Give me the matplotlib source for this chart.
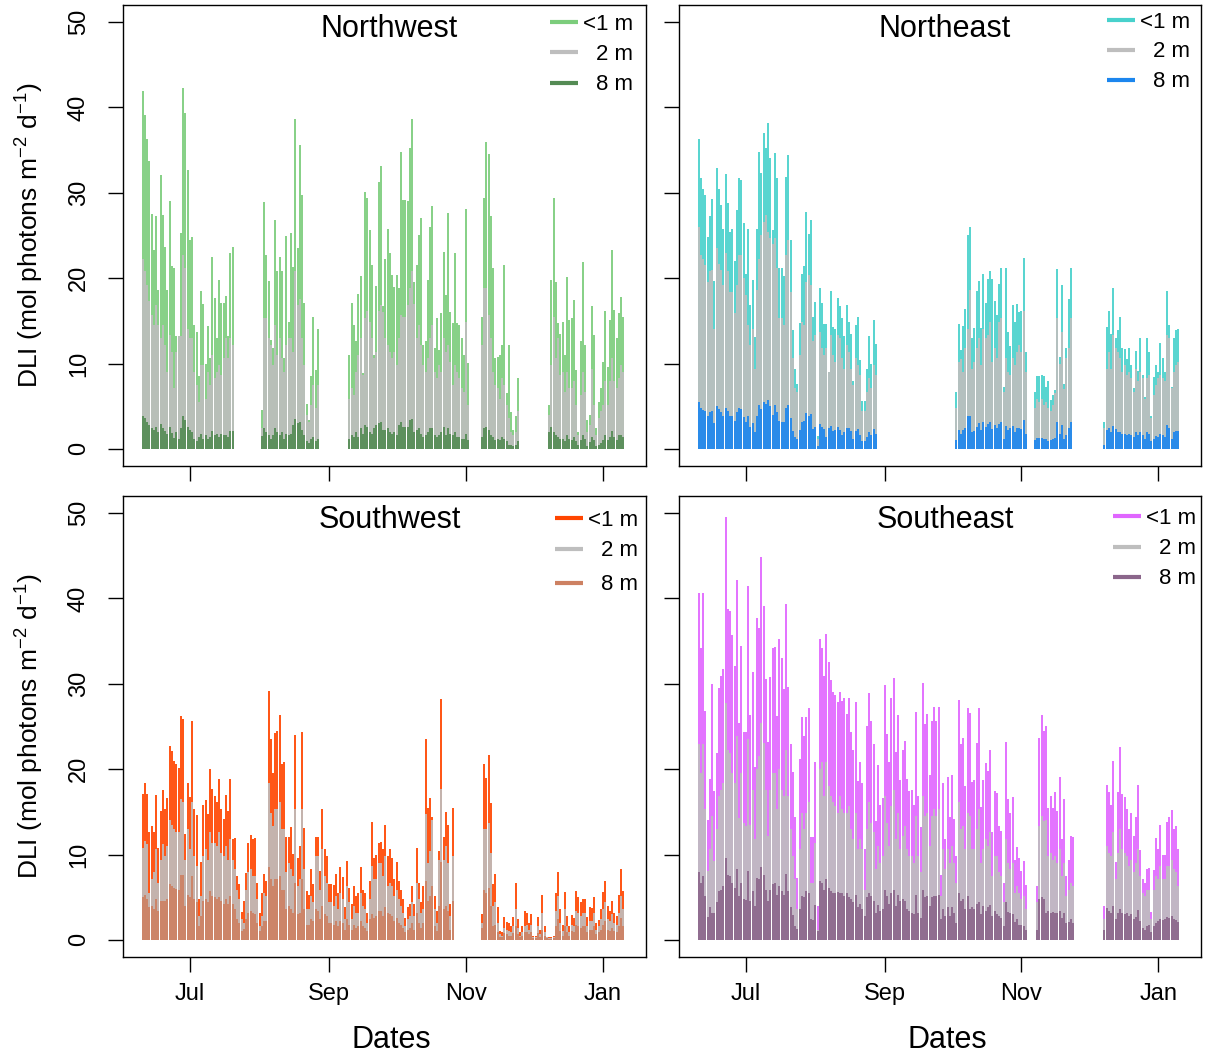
import numpy as np
import matplotlib
matplotlib.use('Agg')
import matplotlib.pyplot as plt

plt.rcParams['font.family'] = ['Liberation Sans', 'DejaVu Sans']
plt.rcParams['mathtext.fontset'] = 'custom'
plt.rcParams['mathtext.rm'] = 'Liberation Sans'
plt.rcParams['mathtext.it'] = 'Liberation Sans:italic'

# day numbers are counted from 1 July; each series is stored as runs of
# consecutive days (start day of each run + the daily DLI values in it)
month_ticks = [0, 62, 123, 184]
month_labels = ['Jul', 'Sep', 'Nov', 'Jan']
depth_labels = ['<1 m', '2 m', '8 m']
sites = ['Northwest', 'Northeast', 'Southwest', 'Southeast']

# ---------------- Northwest ----------------
nw_start = [-21, 32, 71, 130, 160]
nw_surf = [
    [41.9, 39.1, 36.3, 33.7, 27.5, 23.3, 27.3, 18.6, 32.1, 27.4, 23.7, 18.6, 29.0, 21.4, 21.2, 13.2, 13.2, 25.3, 42.3, 39.3,
     32.7, 24.5, 24.8, 14.5, 13.7, 8.5, 18.5, 17.0, 10.0, 14.4, 10.6, 22.5, 17.7, 13.0, 19.8, 17.1, 17.1, 17.9, 13.2, 22.9, 23.7],
    [4.6, 28.9, 22.7, 19.7, 12.8, 11.8, 26.8, 20.8, 22.5, 20.8, 10.6, 24.9, 14.9, 25.3, 21.3, 38.6, 23.5, 35.6, 29.8, 17.1,
     5.3, 3.4, 8.6, 15.5, 9.2, 14.1],
    [11.0, 17.1, 14.5, 12.6, 18.1, 20.3, 8.9, 30.1, 29.4, 25.6, 21.5, 11.0, 19.1, 31.3, 33.1, 16.7, 22.3, 25.8, 22.9, 20.4,
     19.0, 20.4, 18.8, 34.8, 29.2, 29.1, 29.0, 35.3, 38.7, 19.6, 21.5, 25.1, 27.0, 12.2, 12.6, 19.8, 26.0, 28.4, 11.8, 15.3,
     11.6, 15.9, 23.1, 18.0, 27.6, 16.0, 14.7, 22.9, 14.7, 14.5, 13.0, 11.0, 28.1, 10.1],
    [15.5, 29.4, 35.9, 34.5, 27.3, 21.2, 10.6, 10.8, 11.0, 12.2, 21.5, 6.5, 12.2, 4.3, 2.2, 3.8, 8.3],
    [5.2, 19.8, 29.4, 19.5, 14.7, 13.5, 14.9, 11.0, 20.1, 15.1, 15.3, 17.4, 9.3, 2.0, 12.6, 21.9, 12.2, 3.4, 4.0, 16.7,
     13.3, 2.5, 5.5, 7.1, 10.2, 16.1, 9.6, 15.1, 23.3, 16.3, 13.0, 15.9, 17.8, 15.5],
]
nw_mid = [
    [22.3, 20.8, 19.2, 17.3, 15.7, 14.5, 16.9, 14.5, 13.0, 14.5, 12.2, 9.0, 13.3, 11.4, 7.1, 11.4, 13.2, 13.2, 22.7, 21.2,
     14.1, 13.0, 13.0, 9.0, 7.5, 5.5, 9.8, 9.8, 5.9, 9.0, 7.5, 11.0, 8.3, 9.0, 9.8, 8.7, 10.6, 13.0, 10.6, 13.0, 12.2],
    [2.5, 15.3, 15.3, 13.0, 12.2, 9.8, 14.5, 11.0, 13.0, 10.6, 9.0, 12.2, 13.0, 13.0, 11.4, 20.8, 16.9, 17.6, 13.0, 9.8,
     4.0, 3.2, 5.2, 7.5, 4.8, 7.5],
    [5.9, 7.1, 6.3, 9.0, 11.0, 13.0, 8.7, 15.3, 16.1, 14.9, 13.0, 10.6, 11.4, 16.1, 16.9, 16.0, 13.0, 12.2, 11.4, 10.6,
     11.4, 9.8, 13.0, 15.7, 15.5, 15.5, 16.9, 18.8, 20.8, 17.0, 13.0, 14.5, 12.2, 9.8, 9.0, 10.6, 13.0, 14.5, 9.0, 8.3,
     9.8, 9.0, 13.0, 11.4, 12.2, 10.2, 7.5, 9.8, 9.0, 8.3, 7.1, 6.7, 14.9, 5.2],
    [12.2, 18.8, 18.8, 15.7, 13.0, 9.0, 7.5, 7.1, 5.9, 8.3, 7.5, 5.2, 3.6, 2.0, 1.6, 2.0, 4.4],
    [4.0, 9.8, 15.5, 10.6, 13.0, 8.7, 9.0, 6.7, 9.0, 7.1, 7.1, 7.9, 5.2, 1.6, 6.3, 9.0, 6.7, 2.0, 2.8, 9.4,
     5.2, 1.6, 3.6, 4.4, 5.2, 7.9, 5.2, 7.9, 10.6, 7.9, 7.1, 8.3, 9.8, 9.0],
]
nw_deep = [
    [3.8, 3.6, 3.2, 2.8, 2.4, 2.2, 2.6, 2.0, 2.9, 2.5, 2.1, 1.8, 2.6, 1.9, 1.3, 2.0, 1.2, 2.4, 3.9, 3.4,
     2.6, 2.2, 2.0, 1.2, 0.9, 1.4, 1.7, 1.2, 1.6, 1.2, 1.4, 2.1, 1.6, 1.8, 1.4, 1.8, 1.6, 1.6, 1.4, 2.1, 2.1],
    [1.5, 2.4, 2.0, 1.6, 1.2, 1.6, 2.4, 2.0, 1.6, 2.0, 1.2, 1.8, 1.6, 1.8, 2.8, 3.5, 3.0, 3.2, 2.2, 1.6,
     0.9, 0.7, 1.2, 1.4, 0.9, 1.2],
    [1.2, 1.6, 1.4, 2.0, 1.4, 2.4, 1.8, 2.8, 2.6, 2.0, 1.8, 2.4, 2.8, 3.0, 3.2, 2.2, 2.2, 2.4, 2.0, 1.8,
     2.0, 1.6, 2.8, 3.2, 2.6, 2.6, 2.6, 3.4, 3.5, 2.0, 2.2, 2.4, 1.8, 1.4, 1.6, 2.0, 2.4, 2.5, 1.6, 1.4,
     1.6, 2.0, 2.6, 1.6, 2.4, 1.8, 1.6, 2.0, 1.4, 1.4, 1.2, 1.2, 1.8, 1.1],
    [1.4, 2.4, 2.6, 2.2, 1.6, 1.4, 1.1, 1.2, 1.1, 1.4, 1.2, 0.9, 0.5, 0.5, 0.4, 0.5, 0.9],
    [2.0, 2.6, 2.0, 1.6, 1.4, 1.2, 1.2, 0.9, 1.6, 1.2, 1.1, 1.4, 0.9, 0.5, 1.1, 1.6, 1.2, 0.4, 0.8, 1.4,
     1.1, 0.3, 0.5, 0.7, 1.1, 1.6, 1.1, 1.4, 2.1, 1.4, 1.1, 1.6, 1.6, 1.4],
]

# ---------------- Northeast ----------------
ne_start = [-21, 94, 129, 160]
ne_surf = [
    [36.3, 31.7, 30.4, 29.7, 24.8, 27.3, 29.3, 19.7, 32.9, 30.4, 28.6, 25.8, 32.2, 28.8, 25.4, 25.8, 22.0, 28.0, 31.7, 31.5,
     26.5, 20.5, 25.8, 16.9, 19.8, 13.1, 25.8, 34.8, 32.3, 37.0, 35.3, 38.2, 34.1, 25.6, 34.7, 31.7, 21.2, 21.2, 20.2, 31.9,
     34.4, 24.5, 13.9, 9.4, 7.6, 14.8, 20.5, 21.4, 27.8, 25.2, 26.8, 15.5, 17.2, 1.5, 18.8, 17.1, 14.6, 14.6, 9.0, 18.5,
     14.3, 14.1, 17.7, 16.7, 15.3, 13.2, 16.9, 14.9, 13.5, 8.0, 14.5, 15.4, 10.4, 5.6, 5.6, 9.4, 13.2, 10.0, 15.1, 12.3],
    [6.7, 14.6, 11.6, 14.4, 16.4, 25.1, 26.0, 13.0, 14.2, 18.5, 19.7, 14.2, 20.5, 17.1, 19.9, 20.9, 19.9, 17.3, 15.7, 19.3,
     21.2, 7.3, 21.2, 13.7, 12.0, 16.9, 14.9, 17.0, 16.0, 16.1, 22.4, 11.4],
    [6.7, 8.5, 8.6, 8.7, 8.5, 7.3, 7.9, 5.7, 6.3, 6.9, 21.1, 10.8, 19.2, 7.6, 11.8, 17.6, 21.2],
    [3.2, 14.3, 16.2, 13.5, 18.8, 13.0, 13.9, 15.4, 11.8, 11.7, 10.5, 11.8, 9.8, 7.1, 11.5, 9.1, 13.0, 8.7, 6.1, 13.0,
     11.4, 3.8, 8.4, 9.8, 9.0, 12.4, 10.6, 9.0, 18.5, 14.5, 7.3, 13.0, 13.9, 14.1],
]
ne_mid = [
    [26.0, 22.7, 22.3, 21.5, 19.6, 20.8, 21.0, 14.1, 23.5, 21.7, 21.0, 19.2, 22.9, 20.8, 18.4, 18.4, 15.9, 19.2, 22.7, 22.7,
     20.0, 18.0, 14.5, 12.2, 14.1, 9.4, 18.6, 22.3, 25.1, 26.6, 27.4, 25.4, 24.7, 24.0, 24.7, 21.2, 15.3, 15.3, 14.5, 22.7,
     24.5, 18.4, 10.6, 7.1, 6.7, 11.0, 14.9, 14.5, 19.6, 20.4, 19.2, 12.6, 13.3, 1.2, 13.7, 11.8, 11.0, 11.8, 9.0, 13.3,
     11.0, 10.2, 13.3, 13.0, 10.6, 9.4, 12.2, 11.4, 9.4, 7.5, 10.6, 9.8, 8.7, 4.4, 4.4, 6.7, 8.3, 7.1, 9.8, 8.7],
    [4.8, 10.2, 10.5, 9.0, 11.8, 14.1, 18.6, 9.4, 10.2, 11.8, 13.0, 9.8, 14.1, 13.0, 13.3, 14.9, 10.2, 11.8, 10.6, 14.9,
     15.3, 6.7, 10.6, 9.0, 8.7, 10.6, 9.8, 11.4, 12.2, 11.4, 16.1, 9.0],
    [4.8, 5.9, 5.5, 5.9, 5.2, 5.5, 4.8, 4.4, 5.2, 6.5, 15.3, 10.0, 13.7, 7.0, 10.6, 11.8, 15.3],
    [2.4, 9.4, 11.4, 9.4, 13.3, 11.8, 11.4, 10.6, 9.0, 9.8, 8.7, 9.0, 8.3, 6.7, 9.4, 7.9, 9.0, 8.3, 5.9, 8.3,
     8.7, 3.6, 6.3, 7.5, 8.3, 8.7, 8.3, 7.9, 13.3, 13.0, 7.1, 9.0, 9.8, 10.2],
]
ne_deep = [
    [5.5, 4.8, 4.6, 4.5, 3.8, 4.3, 4.5, 3.0, 5.0, 4.7, 4.3, 3.8, 4.8, 4.4, 3.9, 3.9, 3.3, 4.3, 4.8, 4.7,
     3.7, 3.2, 3.9, 2.6, 3.0, 2.0, 3.9, 5.2, 4.7, 5.5, 5.3, 5.7, 5.0, 4.0, 5.2, 4.3, 3.3, 3.2, 3.1, 4.8,
     5.2, 3.6, 2.1, 1.4, 1.2, 2.2, 3.1, 3.3, 4.2, 3.9, 4.1, 2.3, 2.6, 0.4, 2.9, 2.6, 2.3, 1.4, 2.4, 2.7,
     2.1, 2.2, 2.6, 2.2, 1.6, 2.0, 2.5, 2.5, 2.1, 1.2, 2.1, 2.3, 1.6, 0.9, 0.9, 1.4, 2.0, 1.6, 2.3, 1.8],
    [1.1, 2.2, 1.7, 2.2, 2.5, 3.8, 3.9, 2.0, 2.1, 2.6, 3.0, 2.2, 3.1, 2.6, 2.9, 3.2, 2.3, 2.8, 2.4, 2.9,
     3.2, 1.2, 2.7, 2.2, 2.4, 2.7, 2.0, 2.5, 2.4, 2.3, 3.4, 1.7],
    [1.1, 1.3, 1.3, 1.3, 1.2, 1.2, 0.9, 1.1, 1.2, 1.3, 3.2, 1.8, 2.8, 1.2, 1.6, 2.4, 3.2],
    [0.5, 2.2, 2.5, 2.0, 2.7, 2.3, 2.0, 2.0, 1.8, 1.8, 1.6, 1.8, 1.6, 1.4, 2.0, 1.6, 2.0, 1.6, 1.2, 2.0,
     1.8, 0.9, 1.2, 1.5, 1.4, 1.8, 1.6, 1.4, 2.8, 2.4, 1.2, 2.0, 2.1, 2.1],
]

# ---------------- Southwest ----------------
sw_start = [-21, 130, 160]
sw_surf = [
    [17.1, 18.4, 17.1, 12.6, 13.4, 12.6, 17.0, 10.8, 15.1, 17.6, 15.3, 16.6, 22.7, 22.1, 21.0, 20.6, 20.1, 26.2, 25.9, 12.4,
     18.4, 16.7, 25.7, 15.3, 14.6, 4.8, 9.1, 15.8, 16.4, 14.8, 20.0, 17.7, 16.9, 16.2, 18.9, 15.3, 14.2, 17.0, 15.1, 18.9,
     11.8, 11.9, 7.5, 6.5, 3.3, 4.6, 7.8, 11.4, 12.3, 11.8, 11.9, 6.7, 3.1, 5.5, 7.7, 6.9, 29.2, 23.5, 19.5, 24.2,
     24.5, 26.4, 20.6, 20.8, 12.0, 12.0, 13.2, 10.1, 24.0, 9.6, 11.0, 24.4, 13.1, 5.7, 5.3, 8.3, 6.5, 12.1, 12.1, 8.1,
     15.3, 10.6, 9.8, 6.6, 6.5, 6.4, 7.7, 5.5, 8.5, 7.4, 3.8, 9.3, 6.1, 4.2, 6.3, 5.1, 5.5, 8.5, 5.9, 5.5,
     3.2, 6.9, 13.8, 9.6, 10.0, 11.4, 11.5, 10.6, 13.5, 9.8, 10.6, 9.6, 7.1, 9.1, 6.9, 5.9, 4.8, 2.6, 3.9, 4.2,
     6.3, 4.2, 10.8, 6.7, 4.4, 6.3, 23.5, 15.5, 16.6, 14.4, 5.2, 3.4, 10.4, 28.2, 12.0, 15.0, 13.5, 4.2, 15.4],
    [3.0, 20.6, 19.0, 21.7, 16.0, 6.6, 7.7, 3.8, 1.1, 0.9, 2.7, 2.1, 2.0, 1.6, 2.7, 6.7, 2.4, 0.9, 1.6, 3.4,
     3.2, 2.0, 3.0, 0.5, 0.5, 2.7, 1.2, 5.3, 1.6, 0.4],
    [0.3, 0.4, 0.5, 5.5, 8.0, 3.6, 1.8, 5.6, 2.8, 1.6, 2.9, 2.6, 5.7, 5.0, 4.4, 4.8, 4.8, 2.7, 3.8, 3.7,
     5.0, 2.0, 2.3, 3.6, 5.6, 6.9, 4.0, 3.4, 4.6, 3.2, 2.8, 5.3, 8.3, 5.7],
]
sw_mid = [
    [10.8, 11.6, 11.2, 5.5, 7.1, 8.0, 10.6, 6.7, 9.4, 11.2, 9.8, 11.0, 14.1, 13.5, 13.0, 12.6, 12.6, 16.5, 16.1, 9.4,
     13.0, 10.6, 16.1, 9.8, 8.7, 2.8, 5.2, 9.8, 10.6, 9.4, 12.6, 11.4, 11.4, 11.0, 12.6, 10.2, 9.8, 11.0, 9.4, 11.8,
     9.4, 8.3, 5.9, 4.8, 2.4, 2.0, 5.9, 7.9, 8.3, 7.5, 7.5, 4.8, 1.6, 2.8, 5.5, 5.2, 18.4, 14.9, 13.3, 15.3,
     15.3, 16.1, 13.0, 13.0, 7.9, 9.0, 8.3, 7.5, 15.3, 6.3, 7.1, 15.3, 8.3, 3.6, 3.6, 5.2, 4.4, 9.8, 9.8, 5.9,
     10.6, 7.5, 6.7, 4.4, 4.4, 4.0, 5.2, 3.6, 5.5, 4.8, 2.4, 6.3, 4.4, 2.4, 4.0, 3.2, 3.2, 5.5, 4.0, 3.6,
     2.0, 4.8, 8.7, 7.1, 7.1, 9.0, 9.0, 7.5, 9.8, 6.3, 6.7, 6.3, 5.2, 5.9, 4.8, 4.0, 3.2, 1.6, 2.4, 2.8,
     4.4, 2.8, 6.7, 4.8, 3.2, 3.6, 14.7, 9.0, 10.4, 14.0, 3.6, 2.0, 9.4, 17.7, 9.4, 11.0, 9.0, 2.8, 9.8],
    [2.0, 13.0, 13.0, 13.7, 10.2, 4.0, 4.4, 2.0, 0.7, 0.5, 1.4, 1.2, 1.1, 0.9, 1.6, 3.6, 1.4, 0.5, 0.9, 1.6,
     1.8, 1.2, 1.8, 0.4, 0.4, 1.6, 0.7, 3.2, 0.9, 0.3],
    [0.2, 0.2, 0.3, 3.4, 5.2, 2.0, 1.1, 3.6, 1.6, 0.9, 1.8, 1.6, 3.4, 3.2, 2.8, 3.2, 3.2, 1.6, 2.2, 2.2,
     3.2, 1.2, 1.6, 2.4, 3.6, 4.4, 2.4, 2.2, 3.0, 2.0, 1.8, 3.2, 5.2, 3.6],
]
sw_deep = [
    [5.0, 5.3, 4.8, 3.8, 4.0, 3.6, 4.8, 3.4, 4.6, 4.6, 4.6, 4.8, 6.5, 6.3, 6.1, 6.0, 5.9, 7.6, 7.6, 4.0,
     5.3, 5.0, 7.5, 4.8, 4.4, 1.6, 2.8, 4.6, 4.8, 4.4, 5.7, 5.2, 5.0, 4.8, 5.0, 4.6, 4.2, 4.8, 4.2, 5.2,
     4.2, 3.6, 2.4, 2.0, 1.1, 1.3, 2.4, 3.2, 3.4, 3.2, 3.0, 2.0, 1.1, 1.6, 2.2, 2.2, 8.5, 7.1, 6.3, 7.1,
     7.1, 7.5, 5.9, 5.9, 3.6, 4.0, 3.6, 3.2, 6.7, 3.0, 3.2, 7.1, 3.6, 1.8, 1.8, 2.4, 2.2, 3.6, 3.4, 2.4,
     4.0, 3.0, 2.8, 2.0, 2.0, 1.8, 2.2, 1.6, 2.2, 2.0, 1.2, 2.4, 1.8, 1.2, 1.7, 1.4, 1.6, 2.2, 1.6, 1.4,
     1.1, 2.4, 3.0, 2.6, 2.8, 3.4, 3.4, 2.8, 3.8, 3.2, 3.0, 2.8, 2.2, 2.6, 2.0, 1.8, 1.4, 0.9, 1.2, 1.4,
     2.0, 1.2, 3.2, 2.0, 1.4, 2.0, 6.9, 4.6, 5.2, 6.3, 1.6, 1.1, 4.0, 9.1, 3.6, 4.0, 3.4, 1.2, 4.6],
    [1.4, 5.9, 5.5, 6.1, 4.0, 1.6, 1.8, 0.9, 0.4, 0.3, 0.8, 0.7, 0.5, 0.5, 0.8, 1.6, 0.7, 0.3, 0.5, 0.9,
     0.9, 0.7, 0.9, 0.2, 0.2, 0.8, 0.4, 1.2, 0.5, 0.2],
    [0.1, 0.1, 0.2, 1.6, 2.4, 1.1, 0.5, 1.6, 0.9, 0.5, 1.1, 0.9, 1.8, 1.6, 1.4, 1.6, 1.6, 0.9, 1.2, 1.2,
     1.6, 0.7, 0.9, 1.2, 1.8, 2.2, 1.2, 1.1, 1.4, 1.1, 0.9, 1.6, 2.6, 1.6],
]

# ---------------- Southeast ----------------
se_start = [-21, 130, 160]
se_surf = [
    [40.6, 34.2, 40.6, 26.8, 14.1, 18.8, 30.0, 17.4, 21.9, 29.5, 30.9, 31.7, 49.5, 38.8, 38.5, 35.7, 32.1, 42.2, 25.4, 34.4,
     24.3, 24.4, 41.5, 26.4, 31.4, 20.2, 37.7, 36.5, 44.9, 39.1, 30.6, 23.2, 30.8, 34.2, 34.3, 26.2, 35.2, 33.0, 29.4, 39.4,
     29.6, 23.0, 19.7, 14.4, 7.2, 21.2, 26.1, 23.9, 26.1, 27.2, 12.0, 12.0, 20.8, 4.0, 35.3, 34.2, 30.9, 35.8, 32.6, 30.5,
     29.0, 28.7, 27.9, 29.0, 28.0, 28.3, 26.5, 28.3, 24.3, 22.2, 27.9, 18.6, 20.8, 18.4, 10.6, 25.1, 28.9, 25.7, 23.0, 13.9,
     20.5, 15.8, 16.6, 29.9, 24.1, 20.8, 28.3, 30.7, 22.0, 26.3, 18.7, 22.2, 23.3, 18.8, 17.4, 17.6, 15.8, 26.7, 16.9, 13.2,
     30.1, 25.3, 26.5, 19.3, 25.6, 27.3, 25.6, 27.3, 7.6, 18.4, 11.8, 19.1, 14.4, 19.3, 14.2, 9.8, 28.1, 22.9, 23.6, 18.0,
     27.2, 26.6, 18.5, 18.7, 23.1, 27.2, 15.6, 18.7, 20.7, 19.8, 22.3, 12.6, 17.4, 17.2, 13.3, 12.8, 6.7, 23.2, 16.5, 14.9,
     16.7, 9.4, 10.9, 9.6, 8.1, 9.3, 6.4],
    [6.3, 23.6, 26.4, 24.5, 25.1, 15.5, 16.9, 15.5, 17.3, 15.1, 19.1, 11.8, 16.5, 7.5, 9.4, 12.2, 12.0],
    [4.0, 18.1, 17.3, 15.8, 21.0, 9.1, 17.3, 22.6, 17.1, 16.7, 15.3, 13.0, 14.9, 12.2, 14.4, 18.2, 10.5, 7.1, 6.7, 8.3,
     8.4, 3.3, 8.2, 11.9, 10.6, 13.5, 10.0, 9.9, 13.8, 14.4, 15.2, 13.0, 13.3, 10.6],
]
se_mid = [
    [22.9, 19.6, 22.9, 15.3, 8.1, 10.6, 14.5, 9.3, 13.0, 16.9, 17.6, 18.4, 27.8, 22.3, 21.9, 19.6, 18.4, 23.9, 14.3, 19.6,
     13.7, 13.3, 23.5, 13.5, 17.6, 11.8, 20.0, 21.5, 25.4, 23.1, 17.6, 12.2, 17.6, 19.6, 19.6, 15.3, 20.0, 17.6, 16.9, 22.3,
     16.9, 13.0, 9.8, 7.1, 3.6, 10.6, 14.9, 13.0, 14.9, 16.1, 6.7, 6.7, 11.4, 1.2, 20.0, 20.8, 16.9, 20.8, 18.0, 16.9,
     16.1, 15.7, 14.9, 16.9, 15.3, 14.9, 14.9, 15.7, 13.0, 11.8, 14.9, 10.6, 11.8, 10.6, 5.9, 13.0, 16.1, 13.7, 12.6, 8.3,
     11.0, 9.0, 9.8, 16.9, 13.7, 11.0, 15.7, 17.6, 11.8, 14.9, 10.6, 12.2, 13.3, 10.6, 9.8, 9.8, 9.0, 14.5, 9.8, 7.9,
     16.9, 14.5, 14.9, 11.0, 14.5, 15.3, 14.5, 15.3, 5.2, 10.6, 8.3, 10.6, 9.0, 11.0, 9.0, 6.7, 16.1, 13.0, 13.3, 10.6,
     14.9, 14.5, 10.6, 10.6, 13.0, 15.3, 9.0, 10.6, 11.8, 11.0, 12.6, 7.5, 9.8, 9.8, 7.9, 7.5, 4.4, 11.8, 9.0, 8.3,
     9.0, 5.5, 6.3, 5.5, 4.8, 5.2, 3.6],
    [4.4, 13.3, 14.5, 13.9, 14.1, 9.8, 10.2, 9.4, 9.8, 9.0, 10.6, 7.5, 9.0, 5.2, 5.9, 6.7, 6.3],
    [2.4, 11.0, 10.2, 9.8, 12.6, 7.1, 10.2, 13.0, 10.6, 10.2, 9.8, 8.7, 9.4, 7.9, 9.0, 10.6, 7.5, 5.5, 5.2, 5.9,
     5.9, 2.4, 5.9, 7.5, 7.1, 8.7, 7.1, 7.1, 8.7, 8.7, 9.4, 8.3, 7.9, 6.3],
]
se_deep = [
    [8.0, 6.7, 7.5, 5.2, 2.7, 3.8, 3.2, 3.2, 4.4, 5.7, 5.9, 6.3, 9.6, 7.6, 7.5, 6.7, 6.1, 8.3, 5.2, 6.7,
     4.8, 4.7, 8.1, 4.6, 5.7, 4.0, 7.3, 7.1, 8.6, 7.6, 5.9, 4.6, 5.9, 6.5, 6.7, 5.3, 6.3, 5.7, 5.3, 7.7,
     5.7, 3.9, 2.9, 1.6, 1.3, 3.6, 5.2, 5.0, 5.7, 5.5, 2.4, 2.3, 4.1, 1.1, 6.9, 6.7, 5.9, 7.1, 6.1, 5.7,
     5.5, 5.5, 5.6, 5.5, 5.5, 5.2, 5.5, 5.0, 4.8, 4.4, 5.3, 3.8, 4.2, 3.6, 2.8, 5.0, 5.5, 5.2, 4.6, 3.2,
     4.1, 3.4, 3.6, 5.8, 5.2, 4.2, 5.5, 5.9, 4.0, 5.3, 4.6, 4.8, 4.6, 3.6, 3.4, 3.2, 3.0, 5.3, 3.2, 2.6,
     5.8, 5.0, 5.2, 4.0, 5.0, 5.2, 5.2, 5.3, 2.4, 3.6, 2.8, 3.8, 2.8, 3.8, 3.2, 2.0, 5.5, 4.6, 4.8, 3.6,
     5.2, 3.6, 3.8, 3.6, 4.2, 4.5, 3.0, 4.0, 3.4, 3.8, 4.1, 2.8, 3.4, 3.0, 2.8, 2.6, 1.6, 4.4, 3.3, 3.2,
     3.0, 2.1, 2.4, 1.8, 1.7, 1.6, 1.2],
    [1.2, 4.8, 5.0, 4.8, 3.2, 3.4, 3.2, 3.3, 3.1, 3.2, 3.4, 2.6, 3.2, 2.0, 2.1, 2.4, 2.0],
    [1.2, 3.7, 3.4, 3.2, 4.0, 2.4, 3.2, 3.6, 3.2, 3.0, 3.1, 2.8, 3.0, 2.5, 2.7, 3.5, 2.2, 1.4, 1.2, 1.6,
     1.7, 0.9, 1.6, 2.0, 2.2, 2.5, 2.3, 2.4, 2.7, 2.6, 2.8, 2.5, 2.3, 2.1],
]

grey = '#BEBEBE'
panels = [
    (nw_start, nw_surf, nw_mid, nw_deep, '#7CCD7C', '#548B54'),
    (ne_start, ne_surf, ne_mid, ne_deep, '#48D1CC', '#1C86EE'),
    (sw_start, sw_surf, sw_mid, sw_deep, '#FF4500', '#CD8162'),
    (se_start, se_surf, se_mid, se_deep, '#E066FF', '#8B668B'),
]

W, H = 1208, 1057
fig = plt.figure(figsize=(W / 100, H / 100), dpi=100)

# panel boxes in pixels: left, top, right, bottom
boxes = [(123, 5, 646, 466), (679, 5, 1201, 466),
         (123, 496, 646, 957), (679, 496, 1201, 957)]
# legend: line start x, first row y, row offsets (pixels, relative to panel box)
legend_pos = [(427, 17, [0, 30, 61]), (428, 15, [0, 30, 60]),
              (432, 22, [0, 31, 65]), (434, 20, [0, 31, 61])]


def draw_runs(ax, starts, runs, color):
    for s, vals in zip(starts, runs):
        days = s + np.arange(len(vals))
        ax.vlines(days, 0, vals, colors=color, linewidth=1.3)


for i, (box, (starts, surf, mid, deep, c_surf, c_deep)) in enumerate(zip(boxes, panels)):
    l, t, r, b = box
    ax = fig.add_axes([l / W, 1 - b / H, (r - l) / W, (b - t) / H])
    draw_runs(ax, starts, surf, c_surf)
    draw_runs(ax, starts, mid, grey)
    draw_runs(ax, starts, deep, c_deep)

    ax.set_xlim(-29.8, 203.1)
    ax.set_ylim(-2, 52)
    ax.set_xticks(month_ticks)
    ax.set_yticks([0, 10, 20, 30, 40, 50])
    ax.tick_params(direction='out', length=10.8, width=1.0, labelsize=17, color='black')
    ax.tick_params(axis='x', pad=8)
    ax.tick_params(axis='y', pad=13)
    for sp in ax.spines.values():
        sp.set_linewidth(1.0)

    bottom_row = i >= 2
    left_col = i % 2 == 0
    if bottom_row:
        ax.set_xticklabels(month_labels)
    else:
        ax.set_xticklabels([])
    if left_col:
        ax.set_yticklabels(['0', '10', '20', '30', '40', '50'], rotation=90, va='center')
    else:
        ax.set_yticklabels([])

    # panel title
    fig.text((l + r) / 2 / W + 5 / W, 1 - (t + 24) / H, sites[i],
             fontsize=22, ha='center', va='center')

    # legend drawn as short line segments with right-aligned labels
    lx, ly, offs = legend_pos[i]
    for lab, col, off in zip(depth_labels, [c_surf, grey, c_deep], offs):
        yy = 1 - (t + ly + off) / H
        fig.add_artist(plt.Line2D([(l + lx) / W, (l + lx + 28) / W], [yy, yy],
                                  color=col, linewidth=3, solid_capstyle='butt'))
        fig.text((l + lx + 83) / W, yy - 2 / H, lab, fontsize=16, ha='right', va='center')

    if left_col:
        fig.text(30 / W, 1 - (t + b) / 2 / H, r'DLI (mol photons m$^{-2}$ d$^{-1}$)',
                 fontsize=19, rotation=90, ha='center', va='center')
    if bottom_row:
        fig.text(((l + r) / 2 + 7) / W, 1 - 1040 / H, 'Dates',
                 fontsize=22, ha='center', va='center')

fig.savefig('out.png', dpi=100)
